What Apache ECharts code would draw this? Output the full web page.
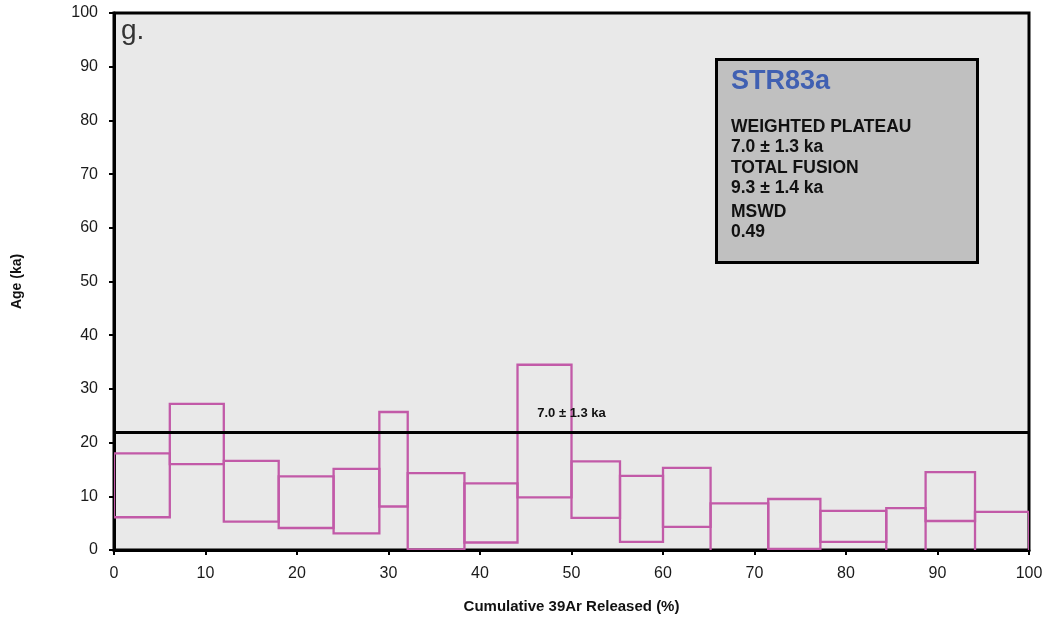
<!DOCTYPE html>
<html>
<head>
<meta charset="utf-8">
<title>STR83a age spectrum</title>
<script src="https://cdn.jsdelivr.net/npm/echarts@6/dist/echarts.min.js"></script>
<style>
  html, body { margin: 0; padding: 0; background: #ffffff; }
  #chart { width: 1048px; height: 624px; }
</style>
</head>
<body>
<div id="chart"></div>
<script>
// Step boundaries along the cumulative 39Ar release (%)
const cumulativeEdges = [0, 6.1, 12.0, 18.0, 24.0, 29.0, 32.1, 38.3, 44.1, 50.0, 55.3, 60.0, 65.2, 71.5, 77.2, 84.4, 88.7, 94.1, 100];
// Upper and lower age bounds (ka) for each heating step
const ageUpper = [18.0, 27.2, 16.6, 13.7, 15.1, 25.7, 14.3, 12.4, 34.5, 16.5, 13.8, 15.3, 8.7, 9.5, 7.3, 7.8, 14.5, 7.1];
const ageLower = [6.1, 16.0, 5.3, 4.1, 3.1, 8.1, 0.1, 1.4, 9.8, 6.0, 1.5, 4.3, -1.5, 0.2, 1.5, -1.2, 5.4, -1.0];
// Plateau bar level and its annotation
const plateauLevel = 22;
const plateauLabel = '7.0 \u00b1 1.3 ka';
// Axis ticks
const xTicks = [0, 10, 20, 30, 40, 50, 60, 70, 80, 90, 100];
const yTicks = [0, 10, 20, 30, 40, 50, 60, 70, 80, 90, 100];
// Summary box lines
const sampleName = 'STR83a';
const summaryLines = ['WEIGHTED PLATEAU', '7.0 \u00b1 1.3 ka', 'TOTAL FUSION', '9.3 \u00b1 1.4 ka', 'MSWD', '0.49'];

const stepColor = '#c25aa8';
const font = '"Liberation Sans", Arial, sans-serif';

const stepData = ageUpper.map((hi, i) => [cumulativeEdges[i], cumulativeEdges[i + 1], ageLower[i], hi]);

const chart = echarts.init(document.getElementById('chart'), null, { renderer: 'canvas' });

// vertical centres of the summary lines
const summaryY = [128, 148, 169, 189, 213, 233];

chart.setOption({
  backgroundColor: '#ffffff',
  animation: false,
  grid: {
    left: 114, right: 19, top: 13, bottom: 74,
    show: true, backgroundColor: '#e9e9e9', borderColor: '#000', borderWidth: 3
  },
  xAxis: {
    type: 'value', min: xTicks[0], max: xTicks[xTicks.length - 1], interval: 10,
    name: 'Cumulative 39Ar Released (%)', nameLocation: 'middle', nameGap: 49,
    nameTextStyle: { fontFamily: font, fontWeight: 'bold', fontSize: 15, color: '#111' },
    axisLine: { show: true, onZero: false, lineStyle: { color: '#000', width: 3 } },
    axisTick: { show: true, inside: false, length: 5, lineStyle: { color: '#000', width: 2 } },
    axisLabel: { fontFamily: font, fontSize: 16, color: '#1a1a1a', margin: 16 },
    splitLine: { show: false }
  },
  yAxis: {
    type: 'value', min: yTicks[0], max: yTicks[yTicks.length - 1], interval: 10,
    name: 'Age (ka)', nameLocation: 'middle', nameGap: 90, nameRotate: 90,
    nameTextStyle: { fontFamily: font, fontWeight: 'bold', fontSize: 14, color: '#111' },
    axisLine: { show: true, onZero: false, lineStyle: { color: '#000', width: 3 } },
    axisTick: { show: true, inside: false, length: 5, lineStyle: { color: '#000', width: 2 } },
    axisLabel: { fontFamily: font, fontSize: 16, color: '#1a1a1a', margin: 16 },
    splitLine: { show: false }
  },
  series: [
    {
      type: 'custom',
      name: 'steps',
      clip: true,
      data: stepData,
      encode: { x: [0, 1], y: [2, 3] },
      renderItem: function (params, api) {
        const p0 = api.coord([api.value(0), api.value(3)]);
        const p1 = api.coord([api.value(1), api.value(2)]);
        return {
          type: 'rect',
          shape: { x: p0[0], y: p0[1], width: p1[0] - p0[0], height: p1[1] - p0[1] },
          style: { fill: 'none', stroke: stepColor, lineWidth: 2.3 }
        };
      },
      z: 2
    },
    {
      type: 'line',
      name: 'plateau',
      data: [],
      z: 5,
      markLine: {
        silent: true,
        symbol: ['none', 'none'],
        lineStyle: { color: '#000', width: 3, type: 'solid' },
        label: {
          show: true, position: 'insideMiddleTop', distance: 12,
          formatter: plateauLabel,
          fontFamily: font, fontWeight: 'bold', fontSize: 13, color: '#111'
        },
        data: [{ yAxis: plateauLevel }],
        z: 5
      }
    }
  ],
  graphic: [
    {
      type: 'text', left: 121, top: 17, z: 10,
      style: { text: 'g.', fontFamily: font, fontSize: 28, fill: '#333' }
    },
    {
      type: 'rect', left: 715, top: 58, z: 10,
      shape: { width: 261, height: 203 },
      style: { fill: '#c0c0c0', stroke: '#000', lineWidth: 3 }
    },
    {
      type: 'text', left: 731, top: 68, z: 11,
      style: { text: sampleName, fontFamily: font, fontWeight: 'bold', fontSize: 27, fill: '#4060b2' }
    }
  ].concat(summaryLines.map((t, i) => ({
    type: 'text', left: 731, top: summaryY[i] - 10, z: 11,
    style: { text: t, fontFamily: font, fontWeight: 'bold', fontSize: 17.5, fill: '#111' }
  })))
});
</script>
</body>
</html>
